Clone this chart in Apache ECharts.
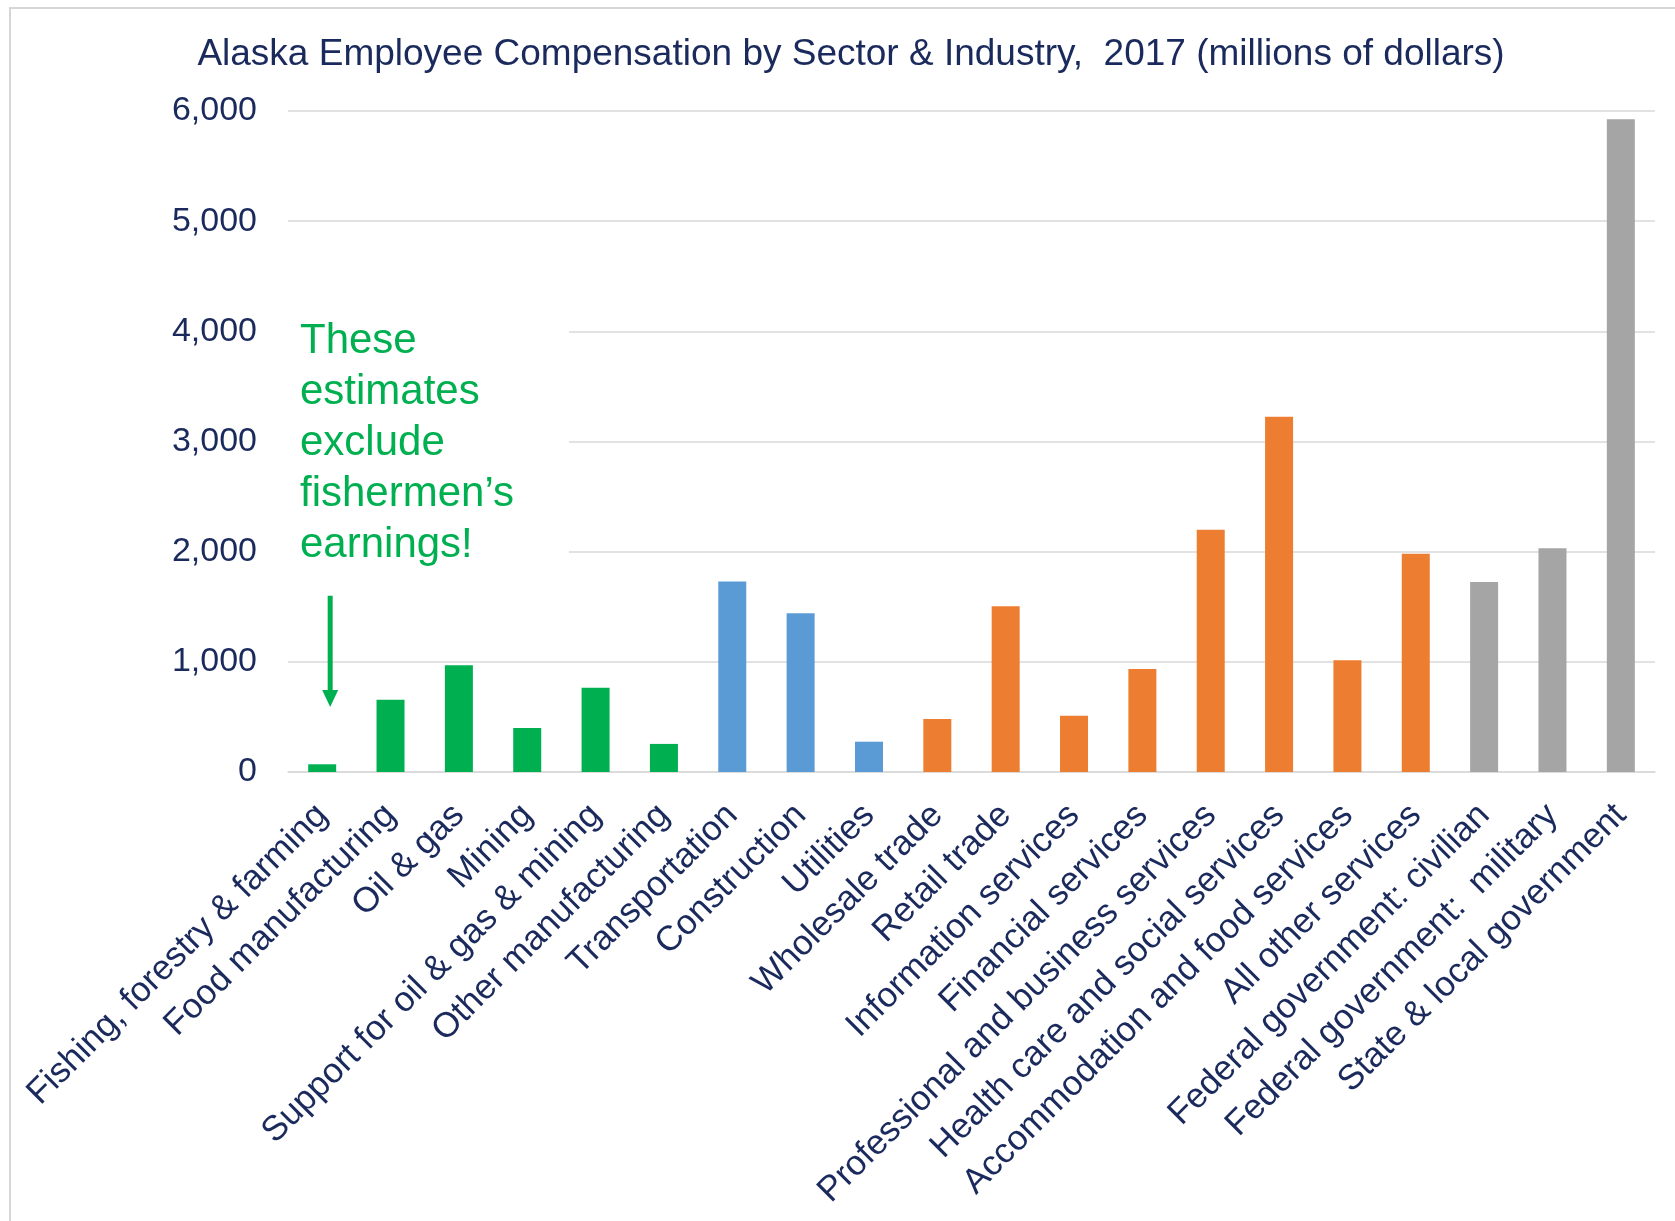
<!DOCTYPE html>
<html>
<head>
<meta charset="utf-8">
<script src="https://cdn.jsdelivr.net/npm/echarts@6/dist/echarts.min.js"></script>
<style>
  html, body { margin: 0; padding: 0; background: #fff; }
  #chart { width: 1675px; height: 1221px; }
</style>
</head>
<body>
<div id="chart"></div>
<script>
// Alaska employee compensation, 2017 (millions of dollars)
var industries = [
  'Fishing, forestry & farming', 'Food manufacturing', 'Oil & gas', 'Mining',
  'Support for oil & gas & mining', 'Other manufacturing', 'Transportation',
  'Construction', 'Utilities', 'Wholesale trade', 'Retail trade',
  'Information services', 'Financial services', 'Professional and business services',
  'Health care and social services', 'Accommodation and food services',
  'All other services', 'Federal government: civilian', 'Federal government:  military',
  'State & local government'
];
var compensation = [70, 655, 970, 400, 765, 255, 1730, 1440, 275, 480, 1505,
  510, 935, 2200, 3225, 1015, 1980, 1725, 2030, 5925];
var sectorOf = ['resource', 'resource', 'resource', 'resource', 'resource', 'resource',
  'infrastructure', 'infrastructure', 'infrastructure',
  'services', 'services', 'services', 'services', 'services', 'services', 'services', 'services',
  'government', 'government', 'government'];
var yTicks = [0, 1000, 2000, 3000, 4000, 5000, 6000];
var note = ['These', 'estimates', 'exclude', 'fishermen\u2019s', 'earnings!'];

var sectorColors = {
  resource: '#00b050',
  infrastructure: '#5b9bd5',
  services: '#ed7d31',
  government: '#a5a5a5'
};
var navy = '#1b2a5c';
var font = 'Liberation Sans, Arial, sans-serif';

var chart = echarts.init(document.getElementById('chart'));

var barData = [];
for (var i = 0; i < compensation.length; i++) {
  barData.push({ value: compensation[i], itemStyle: { color: sectorColors[sectorOf[i]] } });
}

var option = {
  animation: false,
  backgroundColor: '#fff',
  title: {
    text: 'Alaska Employee Compensation by Sector & Industry,  2017 (millions of dollars)',
    left: 846,
    textAlign: 'center',
    top: 31,
    textStyle: { color: navy, fontSize: 37, fontWeight: 'normal', fontFamily: font }
  },
  grid: { left: 288, right: 20, top: 111, bottom: 449 },
  xAxis: {
    type: 'category',
    data: industries,
    axisTick: { show: false },
    axisLine: { lineStyle: { color: '#d9d9d9', width: 1.5 } },
    axisLabel: {
      interval: 0, rotate: 45, margin: 38,
      color: navy, fontSize: 35, fontFamily: font
    }
  },
  yAxis: {
    type: 'value',
    min: yTicks[0], max: yTicks[yTicks.length - 1], interval: 1000,
    axisLine: { show: false },
    axisTick: { show: false },
    splitLine: { lineStyle: { color: '#d9d9d9', width: 1.5 } },
    axisLabel: {
      margin: 31, color: navy, fontSize: 34, fontFamily: font,
      formatter: function (v) { return v.toLocaleString('en-US'); }
    }
  },
  series: [{
    type: 'bar',
    data: barData,
    barWidth: 28
  }]
};
chart.setOption(option);

// note and arrow pointing at the fishing bar
var ax = chart.convertToPixel({ xAxisIndex: 0 }, 0) + 8;
var arrowTop = chart.convertToPixel({ yAxisIndex: 0 }, 1600);
var arrowTip = chart.convertToPixel({ yAxisIndex: 0 }, 590);
chart.setOption({
  graphic: [
    { type: 'rect', z: 50, shape: { x: 10, y: 8, width: 1700, height: 1300 },
      style: { fill: 'none', stroke: '#d6d6d6', lineWidth: 2 } },
    { type: 'rect', z: 50, shape: { x: 287, y: 290, width: 282, height: 290 },
      style: { fill: '#fff' } },
    { type: 'text', z: 51, x: 300, y: 316,
      style: { text: note.join('\n'), fill: '#00b050', fontSize: 42, lineHeight: 51,
        fontFamily: font, verticalAlign: 'top' } },
    { type: 'line', z: 51, shape: { x1: ax, y1: arrowTop, x2: ax, y2: arrowTip - 12 },
      style: { stroke: '#00b050', lineWidth: 5 } },
    { type: 'polygon', z: 51,
      shape: { points: [[ax - 8, arrowTip - 17], [ax + 8, arrowTip - 17], [ax, arrowTip]] },
      style: { fill: '#00b050' } }
  ]
});
</script>
</body>
</html>
